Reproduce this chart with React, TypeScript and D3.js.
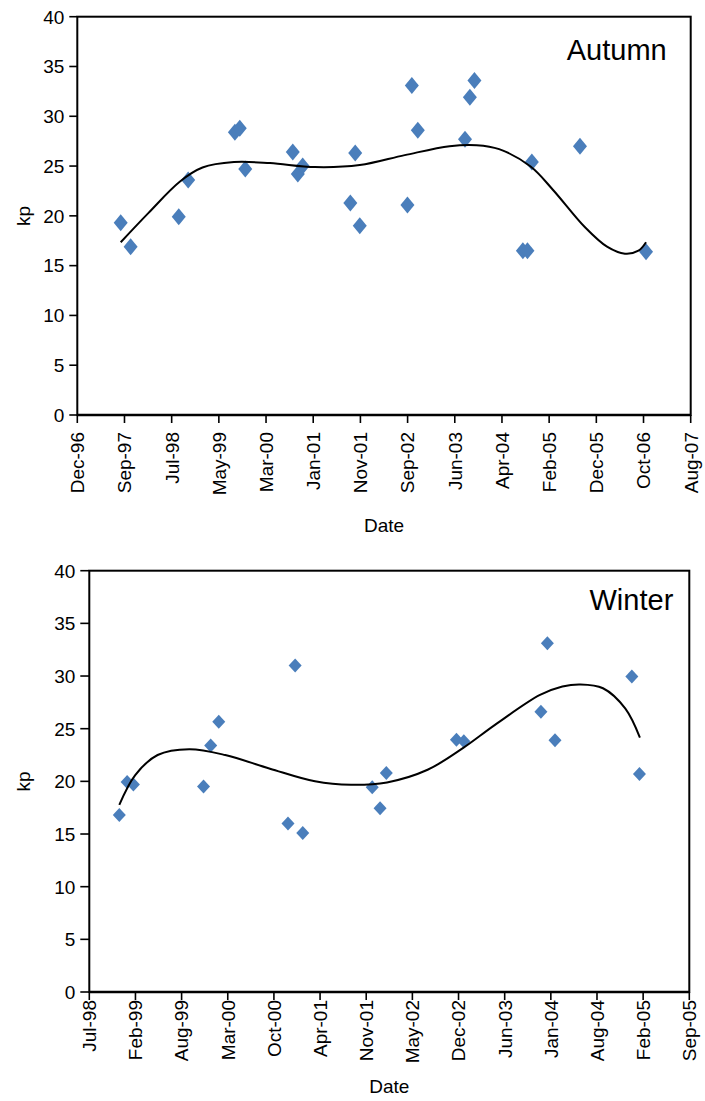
import React from "react";
import * as d3 from "d3";

// autumn survey: dates and kp
const autumnTicks = ["1996-12-01", "1997-09-27", "1998-07-24", "1999-05-20", "2000-03-15", "2001-01-09", "2001-11-05",
	"2002-09-01", "2003-06-28", "2004-04-23", "2005-02-17", "2005-12-14", "2006-10-10", "2007-08-06"];
const autumnDates = ["1997-09-03", "1997-11-05", "1998-09-07", "1998-11-06", "1999-08-30", "1999-09-30", "1999-11-04",
	"2000-09-01", "2000-10-03", "2000-11-03", "2001-09-02", "2001-10-03", "2001-11-01", "2002-08-31", "2002-09-28",
	"2002-11-05", "2003-09-01", "2003-10-02", "2003-10-31", "2004-09-03", "2004-10-02", "2004-10-30", "2005-09-01",
	"2006-10-26"];
const autumnKp = [19.3, 16.9, 19.9, 23.6, 28.4, 28.8, 24.7, 26.4, 24.2, 25.0, 21.3, 26.3, 19.0, 21.1, 33.1, 28.6,
	27.7, 31.9, 33.6, 16.5, 16.5, 25.4, 27.0, 16.4];
const autumnTrendDates = ["1997-09-03", "1998-02-27", "1998-09-15", "1999-02-05", "1999-08-24", "2000-04-09",
	"2001-01-19", "2001-11-01", "2002-08-14", "2003-05-26", "2003-11-14", "2004-04-05", "2004-10-22", "2005-03-14",
	"2005-09-30", "2006-02-20", "2006-06-14", "2006-09-08", "2006-10-26"];
const autumnTrendKp = [17.35, 20.3, 23.45, 24.85, 25.4, 25.3, 24.9, 25.1, 26.1, 27.0, 27.1, 26.7, 24.95, 22.6,
	18.9, 16.9, 16.2, 16.5, 17.35];

// winter survey
const winterTicks = ["1998-07-24", "1999-02-09", "1999-08-28", "2000-03-15", "2000-10-01", "2001-04-19", "2001-11-05",
	"2002-05-24", "2002-12-10", "2003-06-28", "2004-01-14", "2004-08-01", "2005-02-17", "2005-09-05"];
const winterDates = ["1998-12-01", "1999-01-04", "1999-01-31", "1999-12-01", "2000-01-01", "2000-02-05", "2000-12-01",
	"2001-01-01", "2001-02-03", "2001-12-01", "2002-01-04", "2002-01-31", "2002-12-01", "2003-01-02", "2003-12-02",
	"2003-12-30", "2004-02-01", "2004-12-30", "2005-02-01"];
const winterKp = [16.8, 19.95, 19.7, 19.5, 23.4, 25.65, 16.0, 31.0, 15.1, 19.45, 17.45, 20.8, 23.95, 23.8, 26.6,
	33.1, 23.9, 29.95, 20.7];
const winterTrendDates = ["1998-12-01", "1999-02-08", "1999-05-16", "1999-09-30", "2000-03-04", "2000-09-14",
	"2001-03-28", "2001-08-31", "2002-02-03", "2002-07-29", "2003-01-01", "2003-05-17", "2003-11-28", "2004-03-04",
	"2004-05-21", "2004-08-27", "2004-12-02", "2005-02-03"];
const winterTrendKp = [17.77, 20.6, 22.5, 23.05, 22.5, 21.2, 20.0, 19.67, 19.9, 21.1, 23.2, 25.36, 28.2, 29.0,
	29.2, 28.84, 26.9, 24.15];

const kpTicks = [0, 5, 10, 15, 20, 25, 30, 35, 40];

const parse = d3.utcParse("%Y-%m-%d");
const fmt = d3.utcFormat("%b-%y");
const FONT = "'Liberation Sans', Arial, sans-serif";
const BLUE = "#4a7ebb";

function Panel(props) {
	const { box, ticks, dates, kp, trendDates, trendKp, title } = props;
	const tickDates = ticks.map(parse);
	const x = d3.scaleUtc().domain([tickDates[0], tickDates[tickDates.length - 1]]).range([box.left, box.right]);
	const y = d3.scaleLinear().domain([0, 40]).range([box.bottom, box.top]);

	const line = d3.line().curve(d3.curveCatmullRom.alpha(0.5))
		.x(d => x(parse(d[0])))
		.y(d => y(d[1]));
	const trend = trendDates.map((d, i) => [d, trendKp[i]]);

	const diamond = (cx, cy) =>
		"M" + cx + "," + (cy - box.mh) + "L" + (cx + box.mw) + "," + cy + "L" + cx + "," + (cy + box.mh) + "L" + (cx - box.mw) + "," + cy + "Z";

	return (
		<g fontFamily={FONT} fill="#000">
			{kpTicks.map(t => (
				<g key={"y" + t}>
					<line x1={box.left - box.tick} x2={box.left} y1={y(t)} y2={y(t)} stroke="#000" strokeWidth={1.6}/>
					<text x={box.left - box.tick - 5} y={y(t)} dy="0.36em" textAnchor="end" fontSize={19}>{t}</text>
				</g>
			))}
			{tickDates.map((t, i) => (
				<g key={"x" + i}>
					<line x1={x(t)} x2={x(t)} y1={box.bottom} y2={box.bottom + 8} stroke="#000" strokeWidth={1.6}/>
					<text transform={"translate(" + x(t) + "," + (box.bottom + box.labelGap) + ") rotate(-90)"}
						dy="0.36em" textAnchor="end" fontSize={19}>{fmt(t)}</text>
				</g>
			))}
			<rect x={box.left} y={box.top} width={box.right - box.left} height={box.bottom - box.top}
				fill="none" stroke="#000" strokeWidth={2}/>
			<line x1={box.left} x2={box.right} y1={box.bottom} y2={box.bottom} stroke="#000" strokeWidth={2.6}/>
			{dates.map((d, i) => (
				<path key={"p" + i} d={diamond(x(parse(d)), y(kp[i]))} fill={BLUE}/>
			))}
			<path d={line(trend)} fill="none" stroke="#000" strokeWidth={2}/>
			<text x={box.right - box.titleRight} y={box.top + box.titleBase} textAnchor="end" fontSize={29}>{title}</text>
			<text transform={"translate(23," + ((box.top + box.bottom) / 2) + ") rotate(-90)"} dy="0.36em"
				textAnchor="middle" fontSize={19}>kp</text>
			<text x={(box.left + box.right) / 2} y={box.dateBase} textAnchor="middle" fontSize={19}>Date</text>
		</g>
	);
}

export default function App() {
	const topBox = { left: 77.3, right: 690.7, top: 16.7, bottom: 415, tick: 8, labelGap: 17, mw: 7, mh: 8.5,
		titleRight: 24, titleBase: 43.3, dateBase: 531.7 };
	const bottomBox = { left: 89.3, right: 689.3, top: 570.7, bottom: 992, tick: 9, labelGap: 8, mw: 6.5, mh: 7,
		titleRight: 16, titleBase: 39.3, dateBase: 1093 };
	return (
		<svg width={705} height={1101} style={{ position: "absolute", left: 0, top: 0, background: "#fff" }}>
			<Panel box={topBox} ticks={autumnTicks} dates={autumnDates} kp={autumnKp}
				trendDates={autumnTrendDates} trendKp={autumnTrendKp} title="Autumn"/>
			<Panel box={bottomBox} ticks={winterTicks} dates={winterDates} kp={winterKp}
				trendDates={winterTrendDates} trendKp={winterTrendKp} title="Winter"/>
		</svg>
	);
}
